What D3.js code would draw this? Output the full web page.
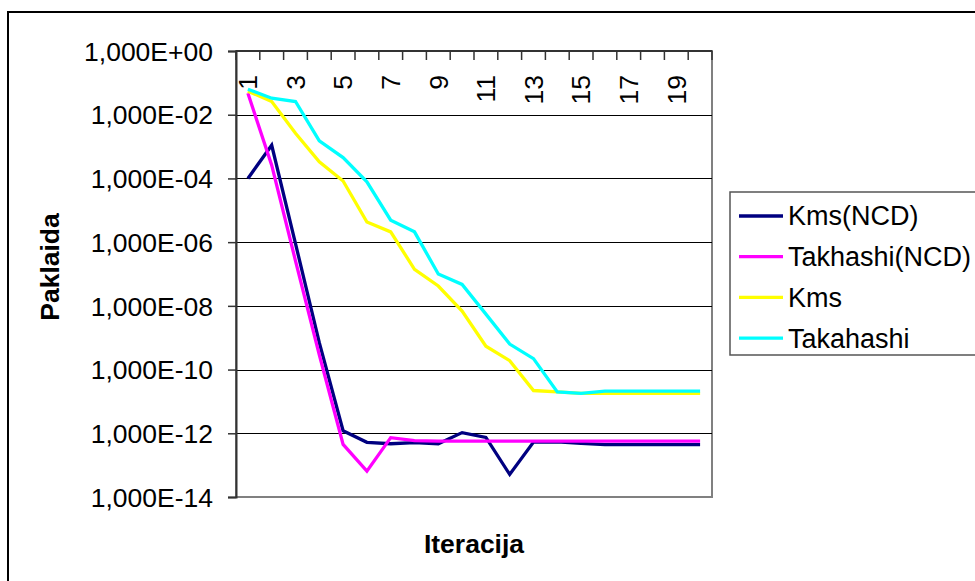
<!DOCTYPE html>
<html>
<head>
<meta charset="utf-8">
<script src="https://cdn.jsdelivr.net/npm/d3@7"></script>
<style>
  body { margin: 0; background: #fff; }
  svg { display: block; font-family: "Liberation Sans", Arial, sans-serif; }
</style>
</head>
<body>
<svg id="chart" width="975" height="581"></svg>
<script>
// Iterations on the category axis
const iterations = d3.range(1, 21);

// Error per iteration for each method
const kmsNCD = [1.0e-4, 1.1e-3, 9e-7, 7e-10, 1.2e-12, 5.2e-13, 4.7e-13, 5.1e-13, 4.7e-13, 1.05e-12,
                7.4e-13, 5.1e-14, 5.3e-13, 5.4e-13, 4.8e-13, 4.4e-13, 4.4e-13, 4.4e-13, 4.4e-13, 4.4e-13];
const takhashiNCD = [4.7e-2, 2.6e-4, 2.6e-7, 2.9e-10, 4.5e-13, 6.5e-14, 7.3e-13, 5.9e-13, 5.7e-13, 5.7e-13,
                     5.7e-13, 5.7e-13, 5.7e-13, 5.7e-13, 5.7e-13, 5.7e-13, 5.7e-13, 5.7e-13, 5.7e-13, 5.7e-13];
const kms = [5.5e-2, 2.6e-2, 2.6e-3, 3.3e-4, 8.3e-5, 4.3e-6, 2.1e-6, 1.4e-7, 4.2e-8, 6.9e-9,
             5.4e-10, 1.9e-10, 2.2e-11, 2.0e-11, 1.8e-11, 1.8e-11, 1.8e-11, 1.8e-11, 1.8e-11, 1.8e-11];
const takahashi = [6.3e-2, 3.3e-2, 2.6e-2, 1.5e-3, 4.5e-4, 7.8e-5, 4.9e-6, 2.1e-6, 1.0e-7, 4.7e-8,
                   5.5e-9, 6.3e-10, 2.2e-10, 2.0e-11, 1.8e-11, 2.1e-11, 2.1e-11, 2.1e-11, 2.1e-11, 2.1e-11];

const seriesNames = ["Kms(NCD)", "Takhashi(NCD)", "Kms", "Takahashi"];
const seriesColors = ["#000080", "#FF00FF", "#FFFF00", "#00FFFF"];
const seriesValues = [kmsNCD, takhashiNCD, kms, takahashi];

// Value-axis ticks and their labels
const yTickValues = [1e0, 1e-2, 1e-4, 1e-6, 1e-8, 1e-10, 1e-12, 1e-14];
const yTickLabels = ["1,000E+00", "1,000E-02", "1,000E-04", "1,000E-06",
                     "1,000E-08", "1,000E-10", "1,000E-12", "1,000E-14"];
// Every other iteration is labelled
const xTickLabels = iterations.map(i => (i % 2 === 1 ? String(i) : ""));

const xTitle = "Iteracija";
const yTitle = "Paklaida";

const svg = d3.select("#chart");
const W = 975, H = 581;
const plot = { left: 236, right: 712, top: 51, bottom: 497 };
const FS = 26.5;

// chart area frame
svg.append("rect")
  .attr("x", 8).attr("y", 12).attr("width", W + 20).attr("height", H + 20)
  .attr("fill", "#fff").attr("stroke", "#000").attr("stroke-width", 2);

const x = d3.scaleBand().domain(iterations).range([plot.left, plot.right]).paddingInner(0).paddingOuter(0);
const y = d3.scaleLog().domain([1, 1e-14]).range([plot.top, plot.bottom]);
const cx = d => x(d) + x.bandwidth() / 2;

// plot area
svg.append("rect")
  .attr("x", plot.left).attr("y", plot.top)
  .attr("width", plot.right - plot.left).attr("height", plot.bottom - plot.top)
  .attr("fill", "#fff").attr("stroke", "#808080").attr("stroke-width", 2);

// horizontal gridlines
svg.append("g").selectAll("line")
  .data(yTickValues.slice(1, -1))
  .join("line")
  .attr("x1", plot.left).attr("x2", plot.right)
  .attr("y1", d => Math.round(y(d)) + 0.5).attr("y2", d => Math.round(y(d)) + 0.5)
  .attr("stroke", "#000").attr("stroke-width", 1);

// value axis on the left
const yAxis = d3.axisLeft(y)
  .tickValues(yTickValues)
  .tickSize(8)
  .tickPadding(15)
  .tickFormat((d, i) => yTickLabels[i]);
const gy = svg.append("g").attr("transform", `translate(${plot.left},0)`).call(yAxis);
gy.select(".domain").attr("stroke", "#333").attr("stroke-width", 2);
gy.selectAll(".tick line").attr("stroke", "#333").attr("stroke-width", 1.5);
gy.selectAll(".tick text")
  .attr("font-size", FS).attr("fill", "#000")
  .attr("font-family", "Liberation Sans, Arial, sans-serif")
  .attr("dy", "0.35em");

// category axis along the top, ticks pointing into the plot
const edges = iterations.map(d => x(d)).concat([plot.right]);
const gx = svg.append("g");
gx.append("line")
  .attr("x1", plot.left).attr("x2", plot.right)
  .attr("y1", plot.top).attr("y2", plot.top)
  .attr("stroke", "#333").attr("stroke-width", 2);
gx.selectAll("line.tick")
  .data(edges)
  .join("line").attr("class", "tick")
  .attr("x1", d => d).attr("x2", d => d)
  .attr("y1", plot.top).attr("y2", plot.top + 9)
  .attr("stroke", "#333").attr("stroke-width", 1.5);
gx.selectAll("text")
  .data(iterations)
  .join("text")
  .attr("transform", d => `translate(${cx(d)},75) rotate(-90)`)
  .attr("text-anchor", "end")
  .attr("dy", "0.35em")
  .attr("font-size", FS)
  .text((d, i) => xTickLabels[i]);

// series lines
const line = d3.line()
  .x((d, i) => cx(iterations[i]))
  .y(d => y(d));
svg.append("g").selectAll("path")
  .data(seriesValues)
  .join("path")
  .attr("d", d => line(d))
  .attr("fill", "none")
  .attr("stroke", (d, i) => seriesColors[i])
  .attr("stroke-width", 3.3)
  .attr("stroke-linejoin", "miter");

// axis titles
svg.append("text")
  .attr("x", (plot.left + plot.right) / 2).attr("y", 553)
  .attr("text-anchor", "middle")
  .attr("font-size", FS).attr("font-weight", "bold")
  .text(xTitle);
svg.append("text")
  .attr("transform", `translate(59,267) rotate(-90)`)
  .attr("text-anchor", "middle")
  .attr("font-size", FS).attr("font-weight", "bold")
  .text(yTitle);

// legend
const legend = svg.append("g");
legend.append("rect")
  .attr("x", 730).attr("y", 192).attr("width", 260).attr("height", 163)
  .attr("fill", "#fff").attr("stroke", "#555").attr("stroke-width", 1.5);
const items = legend.selectAll("g.item")
  .data(seriesNames)
  .join("g").attr("class", "item")
  .attr("transform", (d, i) => `translate(0,${216 + i * 40.7})`);
items.append("line")
  .attr("x1", 739).attr("x2", 783).attr("y1", 0).attr("y2", 0)
  .attr("stroke", (d, i) => seriesColors[i]).attr("stroke-width", 3.3);
items.append("text")
  .attr("x", 788).attr("dy", "0.35em")
  .attr("font-size", FS + 0.5)
  .text(d => d);
</script>
</body>
</html>
